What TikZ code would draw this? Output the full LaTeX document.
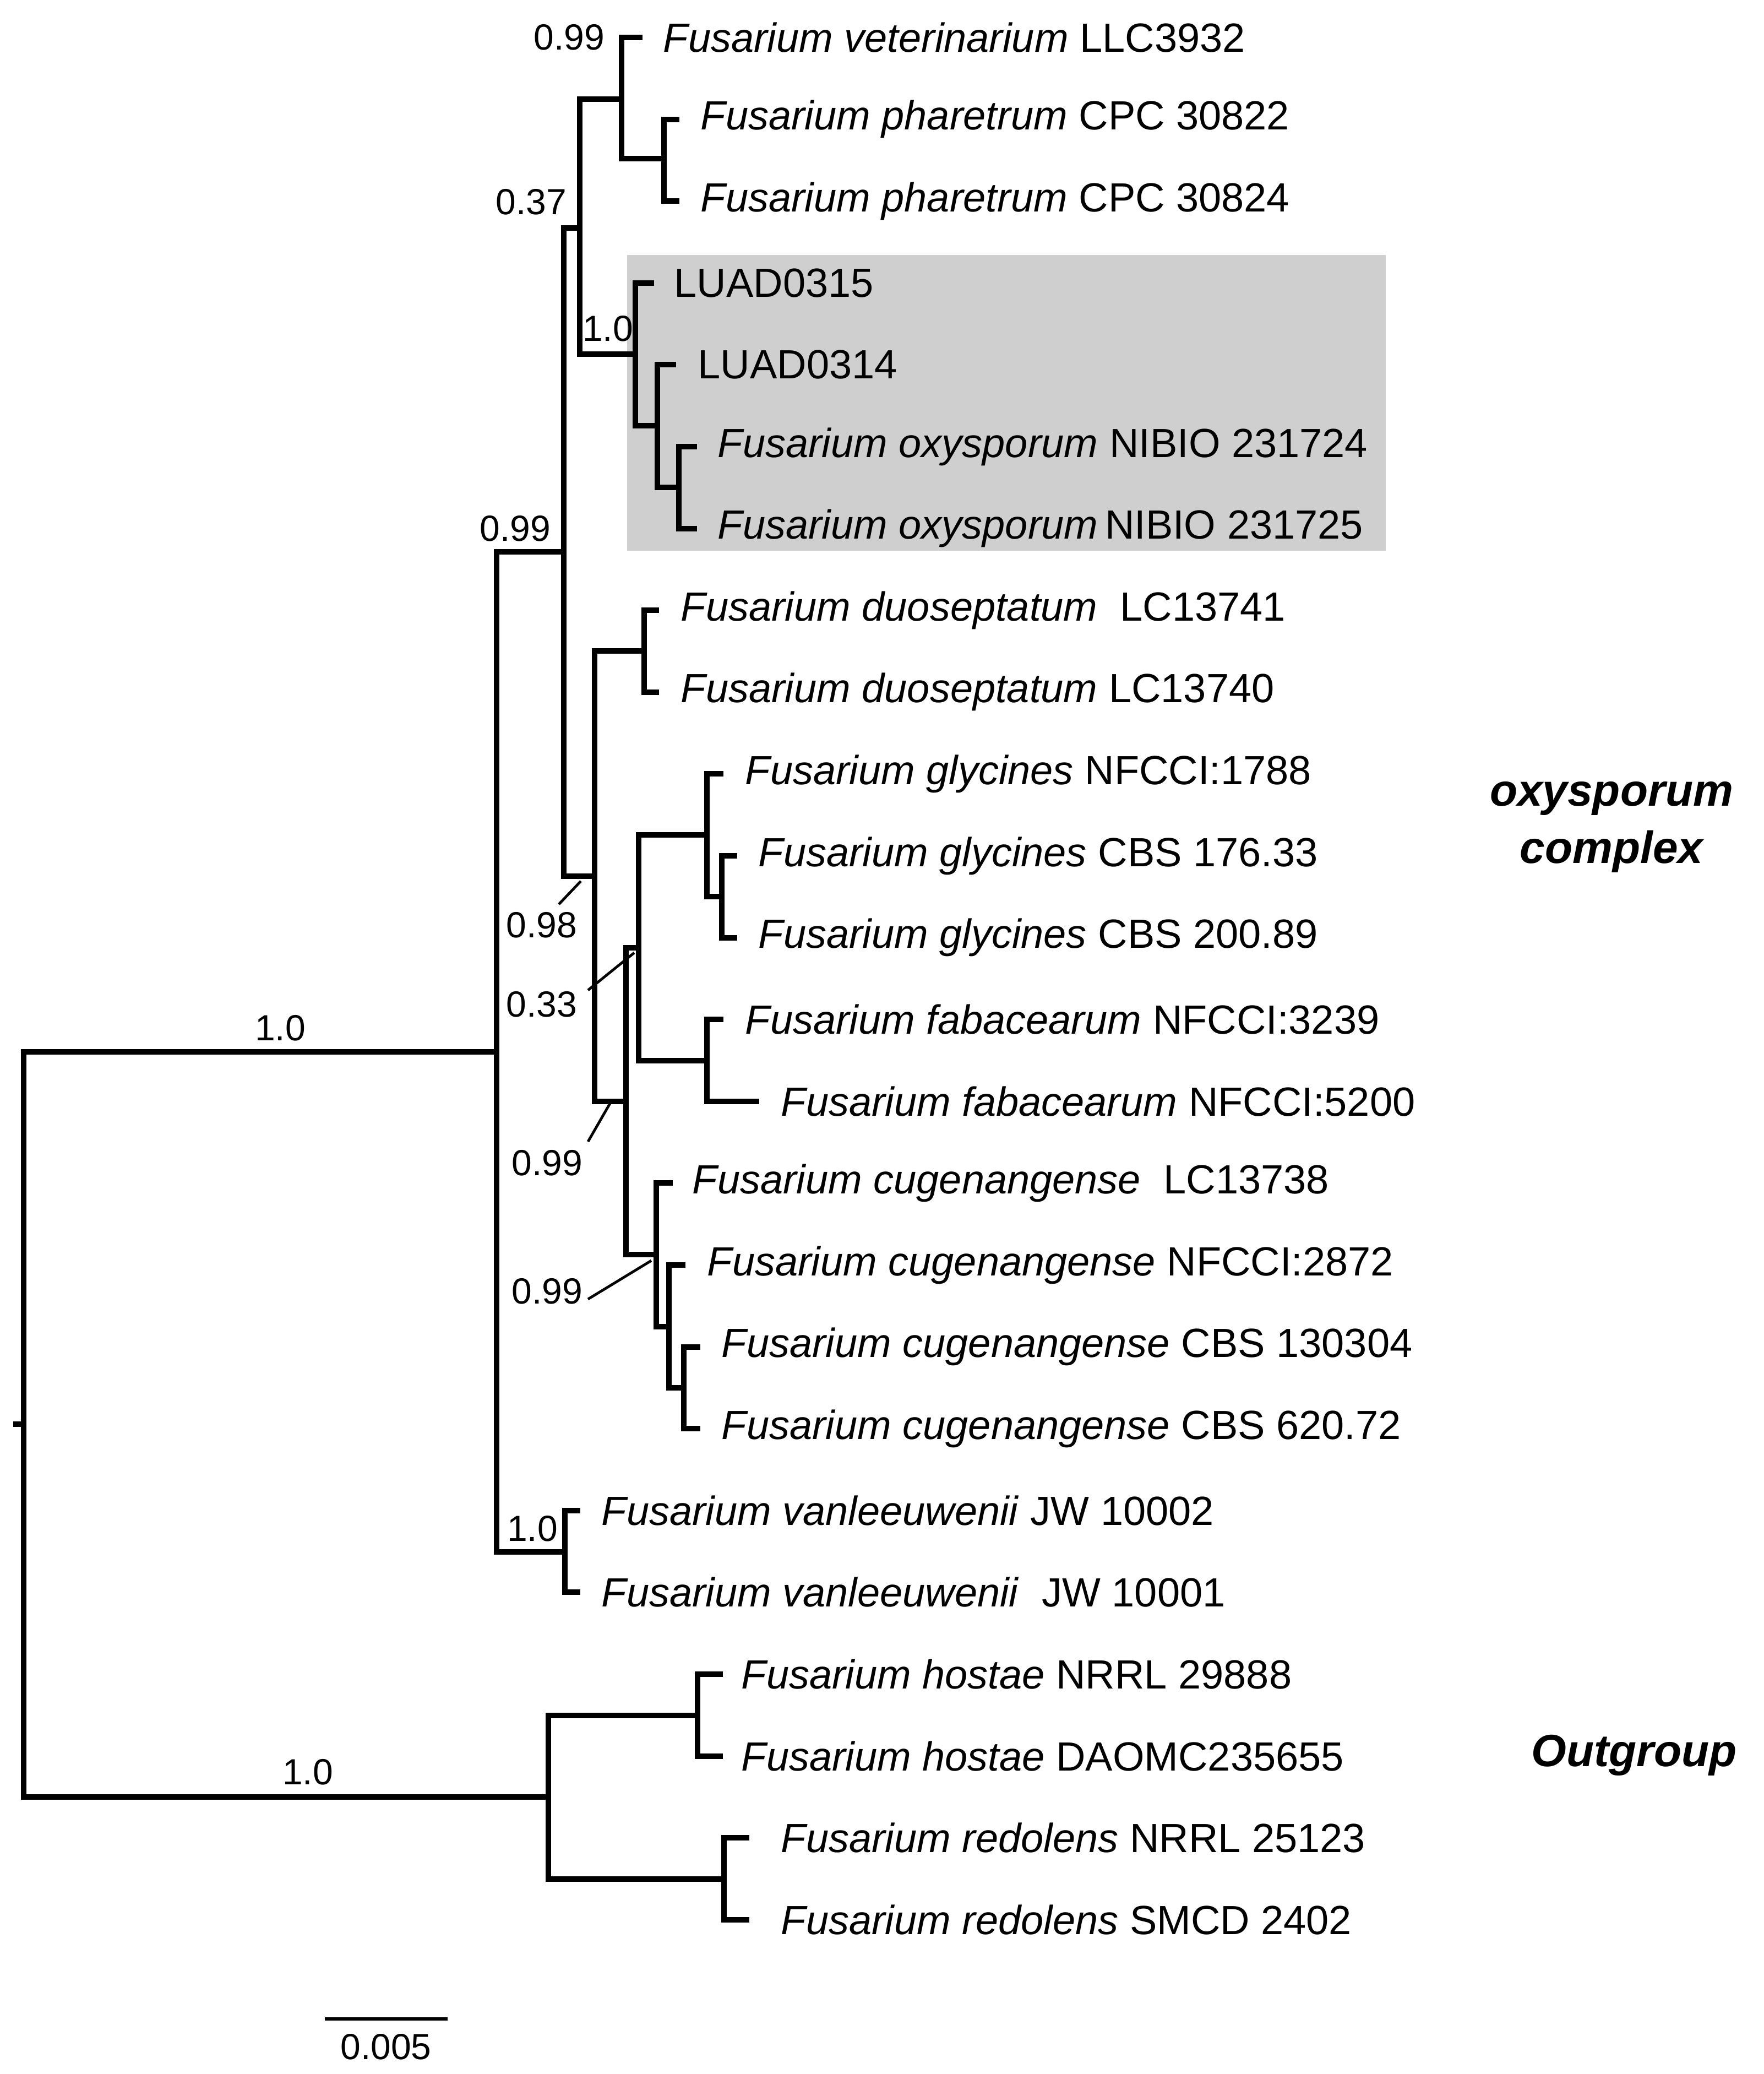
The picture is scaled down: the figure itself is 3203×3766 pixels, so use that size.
\documentclass[tikz,border=0pt]{standalone}
\usepackage{fontspec}
\setmainfont{Liberation Sans}
\begin{document}
\begin{tikzpicture}[x=0.25pt,y=-0.25pt,
  br/.style={line width=2.5pt,line cap=rect},
  lead/.style={line width=1.2pt},
  leaf/.style={anchor=west,inner sep=0pt,font=\fontsize{18.5}{20}\selectfont},
  sup/.style={inner sep=0pt,font=\fontsize{16.5}{18}\selectfont},
  grp/.style={inner sep=0pt,font=\fontsize{20.5}{26}\selectfont\bfseries\itshape,align=center}]
\useasboundingbox (0,0) rectangle (3203,3766);
\fill[gray!38] (1139,463) rectangle (2517,1000);
% leaf tips
\foreach \n/\x in {0/1162,1/1229,2/1229,3/1183,4/1223,5/1261,6/1261,7/1192,8/1192,9/1309,10/1334,11/1334,12/1309,13/1374,14/1217,15/1240,16/1267,17/1267,18/1049,19/1049,20/1308,21/1308,22/1356,23/1356}
  \coordinate (t\n) at (\x,{68+148.6*\n});
% internal nodes
\coordinate (P) at (1206,288);
\coordinate (V) at (1129,180);
\coordinate (L4) at (1233,885);
\coordinate (L3) at (1194,773);
\coordinate (L1) at (1154,643);
\coordinate (A) at (1053,414);
\coordinate (D) at (1170,1182);
\coordinate (G2) at (1311,1628);
\coordinate (G1) at (1284,1516);
\coordinate (F) at (1284,1926);
\coordinate (N33) at (1160,1721);
\coordinate (C3) at (1242,2520);
\coordinate (C2) at (1215,2409);
\coordinate (C1) at (1192,2278);
\coordinate (N99) at (1137,2000);
\coordinate (N98) at (1080,1591);
\coordinate (N37) at (1024,1002);
\coordinate (W) at (1026,2818);
\coordinate (B) at (902,1910);
\coordinate (H) at (1267,3115);
\coordinate (R) at (1315,3412);
\coordinate (O) at (996,3263);
\coordinate (Root) at (43,2586);
\coordinate (Tick) at (29,2586);
% branches
\draw[br] (t1) -| (P) |- (t2);
\draw[br] (t0) -| (V) |- (P);
\draw[br] (t5) -| (L4) |- (t6);
\draw[br] (t4) -| (L3) |- (L4);
\draw[br] (t3) -| (L1) |- (L3);
\draw[br] (V) -| (A) |- (L1);
\draw[br] (t7) -| (D) |- (t8);
\draw[br] (t10) -| (G2) |- (t11);
\draw[br] (t9) -| (G1) |- (G2);
\draw[br] (t12) -| (F) |- (t13);
\draw[br] (G1) -| (N33) |- (F);
\draw[br] (t16) -| (C3) |- (t17);
\draw[br] (t15) -| (C2) |- (C3);
\draw[br] (t14) -| (C1) |- (C2);
\draw[br] (N33) -| (N99) |- (C1);
\draw[br] (D) -| (N98) |- (N99);
\draw[br] (A) -| (N37) |- (N98);
\draw[br] (t18) -| (W) |- (t19);
\draw[br] (N37) -| (B) |- (W);
\draw[br] (t20) -| (H) |- (t21);
\draw[br] (t22) -| (R) |- (t23);
\draw[br] (H) -| (O) |- (R);
\draw[br] (B) -| (Root) |- (O);
\draw[br] (Root) -- (Tick);
% leaf labels
\node[leaf] (l0) at (1204,{68+148.6*0}) {\textit{Fusarium veterinarium} LLC3932};
\node[leaf] (l1) at (1272,{68+148.6*1}) {\textit{Fusarium pharetrum} CPC 30822};
\node[leaf] (l2) at (1272,{68+148.6*2}) {\textit{Fusarium pharetrum} CPC 30824};
\node[leaf] (l3) at (1224,{68+148.6*3}) {LUAD0315};
\node[leaf] (l4) at (1267,{68+148.6*4}) {LUAD0314};
\node[leaf] (l5) at (1303,{68+148.6*5}) {\textit{Fusarium oxysporum} NIBIO 231724};
\node[leaf] (l6) at (1303,{68+148.6*6}) {\textit{Fusarium oxysporum}\,NIBIO 231725};
\node[leaf] (l7) at (1236,{68+148.6*7}) {\textit{Fusarium duoseptatum}\ \ LC13741};
\node[leaf] (l8) at (1236,{68+148.6*8}) {\textit{Fusarium duoseptatum} LC13740};
\node[leaf] (l9) at (1353,{68+148.6*9}) {\textit{Fusarium glycines} NFCCI:1788};
\node[leaf] (l10) at (1377,{68+148.6*10}) {\textit{Fusarium glycines} CBS 176.33};
\node[leaf] (l11) at (1377,{68+148.6*11}) {\textit{Fusarium glycines} CBS 200.89};
\node[leaf] (l12) at (1353,{68+148.6*12}) {\textit{Fusarium fabacearum} NFCCI:3239};
\node[leaf] (l13) at (1418,{68+148.6*13}) {\textit{Fusarium fabacearum} NFCCI:5200};
\node[leaf] (l14) at (1257,{68+148.6*14}) {\textit{Fusarium cugenangense}\ \ LC13738};
\node[leaf] (l15) at (1284,{68+148.6*15}) {\textit{Fusarium cugenangense} NFCCI:2872};
\node[leaf] (l16) at (1310,{68+148.6*16}) {\textit{Fusarium cugenangense} CBS 130304};
\node[leaf] (l17) at (1310,{68+148.6*17}) {\textit{Fusarium cugenangense} CBS 620.72};
\node[leaf] (l18) at (1092,{68+148.6*18}) {\textit{Fusarium vanleeuwenii} JW 10002};
\node[leaf] (l19) at (1092,{68+148.6*19}) {\textit{Fusarium vanleeuwenii}\ \ JW 10001};
\node[leaf] (l20) at (1346,{68+148.6*20}) {\textit{Fusarium hostae} NRRL 29888};
\node[leaf] (l21) at (1346,{68+148.6*21}) {\textit{Fusarium hostae} DAOMC235655};
\node[leaf] (l22) at (1418,{68+148.6*22}) {\textit{Fusarium redolens} NRRL 25123};
\node[leaf] (l23) at (1418,{68+148.6*23}) {\textit{Fusarium redolens} SMCD 2402};
% support values
\node[sup] (s1) at (1034,68) {0.99};
\node[sup] (s2) at (965,367) {0.37};
\node[sup] (s3) at (1104,597) {1.0};
\node[sup] (s4) at (936,960) {0.99};
\node[sup] (s5) at (984,1680) {0.98};
\node[sup] (s6) at (984,1824) {0.33};
\node[sup] (s7) at (994,2112) {0.99};
\node[sup] (s8) at (994,2345) {0.99};
\node[sup] (s9) at (967,2776) {1.0};
\node[sup] (s10) at (509,1867) {1.0};
\node[sup] (s11) at (559,3218) {1.0};
% leader lines
\coordinate (a5) at (1055,1600); \coordinate (b5) at (1015,1642);
\coordinate (a6) at (1152,1730); \coordinate (b6) at (1068,1798);
\coordinate (a7) at (1110,2000); \coordinate (b7) at (1068,2073);
\coordinate (a8) at (1183,2289); \coordinate (b8) at (1068,2359);
\draw[lead] (a5) -- (b5);
\draw[lead] (a6) -- (b6);
\draw[lead] (a7) -- (b7);
\draw[lead] (a8) -- (b8);
% group labels
\node[grp] (g1) at (2927,1502) {oxysporum\\complex};
\node[grp] (g2) at (2968,3187) {Outgroup};
% scale bar
\coordinate (sb1) at (590,3666); \coordinate (sb2) at (813,3666);
\draw[line width=1.5pt] (sb1) -- (sb2);
\node[sup] (sbl) at (701,3717) {0.005};
\end{tikzpicture}
\end{document}
